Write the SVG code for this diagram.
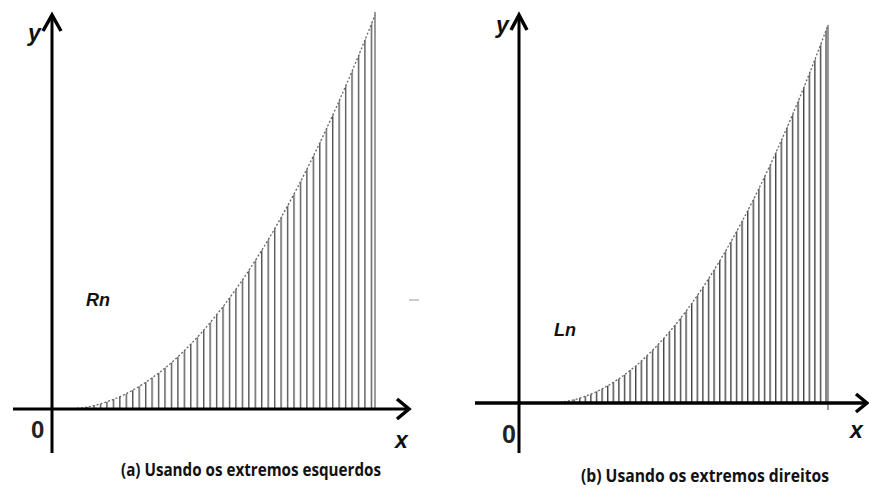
<svg xmlns="http://www.w3.org/2000/svg" width="869" height="492" viewBox="0 0 869 492">
<style>
.axis{stroke:#000;stroke-width:3;fill:none}
.arrow{stroke:#000;stroke-width:3.5;fill:none;stroke-linejoin:miter}
.curve{stroke:#666;stroke-width:1.3;fill:none;stroke-dasharray:2 2}
.lbl{font-family:"Liberation Sans",Arial,sans-serif;font-weight:bold;font-style:italic;fill:#111}
.zero{font-family:"Liberation Sans",Arial,sans-serif;font-weight:bold;fill:#222}
.cap{font-family:"Open Sans","Liberation Sans",sans-serif;font-weight:bold;font-size:17.5px;fill:#111}
</style>
<defs>
<pattern id="barsL" patternUnits="userSpaceOnUse" x="74" y="0" width="6.45" height="10">
<line x1="0.7" y1="0" x2="0.7" y2="10" stroke="#555" stroke-width="1.4"/>
</pattern>
<pattern id="barsR" patternUnits="userSpaceOnUse" x="551" y="0" width="5.6" height="10">
<line x1="0.7" y1="0" x2="0.7" y2="10" stroke="#444" stroke-width="1.4"/>
</pattern>
</defs>
<rect width="869" height="492" fill="#fff"/>

<g id="plotA">
<path d="M65 409 Q220 409 375 15 L375 409 Z" fill="url(#barsL)"/>
<path class="curve" d="M65 409 Q220 409 375 15"/>
<line x1="375" y1="12" x2="375" y2="409" stroke="#666" stroke-width="1.3"/>
</g>
<g id="plotB">
<path d="M548 403 Q688 403 828 25 L828 403 Z" fill="url(#barsR)"/>
<path class="curve" d="M548 403 Q688 403 828 25"/>
<line x1="828" y1="25" x2="828" y2="410" stroke="#666" stroke-width="1.3"/>
</g>

<g id="connectors">
<line class="axis" x1="52" y1="16" x2="52" y2="453"/>
<line class="axis" x1="13" y1="409" x2="408" y2="409"/>
<polyline class="arrow" points="43,31 52,15 61,31"/>
<polyline class="arrow" points="397,399 409,409 397,419"/>
<line class="axis" x1="519" y1="16" x2="519" y2="453"/>
<line class="axis" x1="475" y1="403" x2="866" y2="403" style="stroke-width:3.5"/>
<polyline class="arrow" points="511,30 519,15 527,30"/>
<polyline class="arrow" points="856,394 867,403 856,412"/>
<line x1="409" y1="300" x2="419" y2="300" stroke="#999" stroke-width="1"/>
</g>

<g id="labels">
<text class="lbl" x="28" y="41" font-size="23">y</text>
<text class="zero" x="31" y="438" font-size="24">0</text>
<text class="lbl" x="395" y="448" font-size="23">x</text>
<text class="lbl" x="86" y="306" font-size="18">Rn</text>
<text class="lbl" x="496" y="33" font-size="23">y</text>
<text class="zero" x="502" y="443" font-size="25">0</text>
<text class="lbl" x="850" y="438" font-size="23">x</text>
<text class="lbl" x="554" y="336" font-size="18">Ln</text>
<text class="cap" x="251" y="476" text-anchor="middle" textLength="260" lengthAdjust="spacingAndGlyphs">(a) Usando os extremos esquerdos</text>
<text class="cap" x="705" y="482" text-anchor="middle" textLength="248" lengthAdjust="spacingAndGlyphs">(b) Usando os extremos direitos</text>
</g>
</svg>
